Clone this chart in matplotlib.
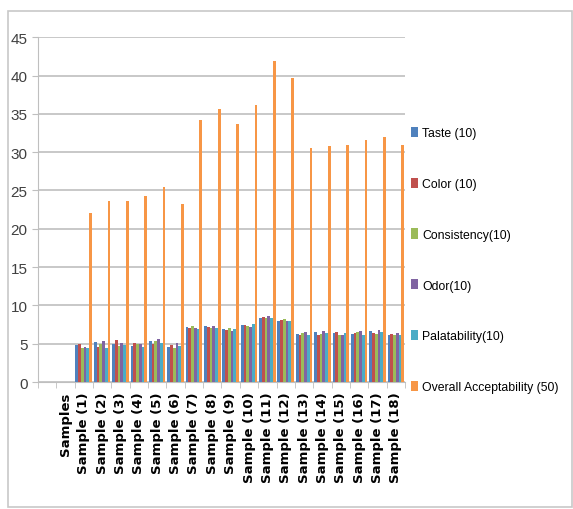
import matplotlib.pyplot as plt
import numpy as np
from matplotlib.patches import Rectangle

# categories (first slot on the axis is an empty one, as in the source sheet)
cats = ["Samples"] + ["Sample (%d)" % i for i in range(1, 19)]

taste = [0, 4.8, 5.2, 4.9, 4.7, 5.4, 4.6, 7.2, 7.3, 6.9, 7.4, 8.4, 8.0, 6.3, 6.5, 6.4, 6.3, 6.6, 6.2]
color = [0, 5.0, 4.6, 5.5, 5.1, 5.0, 4.8, 7.1, 7.2, 6.8, 7.5, 8.5, 8.1, 6.2, 6.2, 6.5, 6.4, 6.4, 6.3]
consistency = [0, 4.4, 5.0, 4.7, 4.9, 5.3, 4.5, 7.3, 7.1, 7.0, 7.3, 8.3, 8.2, 6.4, 6.3, 6.2, 6.5, 6.3, 6.1]
odor = [0, 4.6, 5.3, 5.1, 5.0, 5.6, 5.1, 7.0, 7.3, 6.7, 7.2, 8.6, 7.9, 6.5, 6.6, 6.1, 6.6, 6.8, 6.4]
palatability = [0, 4.5, 4.5, 4.8, 4.6, 5.1, 4.7, 6.9, 7.0, 6.9, 7.6, 8.4, 8.0, 6.1, 6.4, 6.4, 6.2, 6.5, 6.2]
overall = [0, 22.1, 23.6, 23.6, 24.3, 25.4, 23.3, 34.2, 35.6, 33.7, 36.1, 41.9, 39.7, 30.5, 30.8, 30.9, 31.6, 32.0, 31.0]

series = [taste, color, consistency, odor, palatability, overall]
names = ["Taste (10)", "Color (10)", "Consistency(10)", "Odor(10)", "Palatability(10)", "Overall Acceptability (50)"]
colors = ["#4F81BD", "#C0504D", "#9BBB59", "#8064A2", "#4BACC6", "#F79646"]

narrow = ["Liberation Sans", "DejaVu Sans"]

fig = plt.figure(figsize=(5.73, 5.10), dpi=100)
fig.patches.append(Rectangle((8/573, 2/510), 564/573, 496/510, transform=fig.transFigure,
                             fill=False, edgecolor="#c8c8c8", lw=1.2))

ax = fig.add_axes([0.066, 0.249, 0.641, 0.676])
x = np.arange(len(cats))
w = 0.15
for i, (vals, nm, c) in enumerate(zip(series, names, colors)):
    ax.bar(x + (i - 2.5) * w, vals, width=w, color=c, label=nm, zorder=3)

ax.set_xlim(-1.5, 18.5)
ax.set_ylim(0, 45)
ax.set_yticks(range(0, 46, 5))
ax.set_yticklabels([str(v) for v in range(0, 46, 5)], family=narrow, fontsize=11, color="#404040")
ax.grid(True, axis="y", color="#bfbfbf", lw=1.2, zorder=0)

ax.set_xticks(x)
ax.set_xticklabels(cats, rotation=90, fontsize=9.5, fontweight="bold")
ax.tick_params(axis="x", length=0, pad=7)
ax.set_xticks(np.arange(-1.5, 19, 1), minor=True)
ax.tick_params(axis="x", which="minor", length=4, color="#bfbfbf")
ax.tick_params(axis="y", length=4, color="#bfbfbf")

for s in ["top", "right"]:
    ax.spines[s].set_visible(False)
ax.spines["left"].set_color("#bfbfbf")
ax.spines["bottom"].set_color("#bfbfbf")

fig.legend(loc="upper left", bbox_to_anchor=(406/573, 1 - 123/510), frameon=False,
           prop={"family": narrow, "size": 8.8}, labelspacing=3.15,
           handlelength=0.6, handleheight=0.9, handletextpad=0.3, borderaxespad=0)

fig.savefig("out.png", dpi=100)
